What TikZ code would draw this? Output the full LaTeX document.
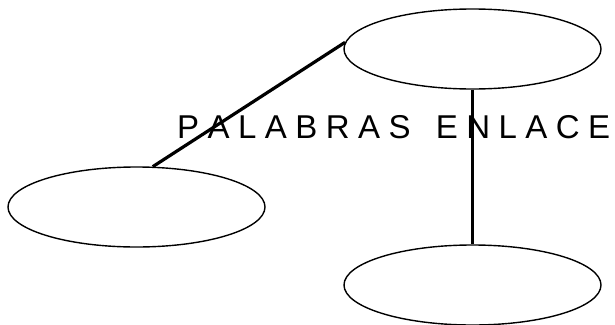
\documentclass[tikz,border=0pt]{standalone}
\usepackage{fontspec}
\setmainfont{Liberation Sans}
\usetikzlibrary{shapes.geometric}
\begin{document}
\begin{tikzpicture}[x=1pt,y=-1pt,
  concept/.style={draw=black,ellipse,line width=1.4pt,minimum width=257pt,minimum height=80pt,inner sep=0pt},
  link/.style={draw=black,line width=3.2pt}]
\useasboundingbox (0,0) rectangle (615,324);
\node[concept] (t) at (472.5,49) {};
\node[concept] (l) at (136.5,207) {};
\node[concept] (b) at (472.5,285) {};
\node[anchor=base west,inner sep=0pt,font=\fontsize{33}{36}\selectfont] (w) at (177,138)
  {\makebox[433pt][s]{P\hfill A\hfill L\hfill A\hfill B\hfill R\hfill A\hfill S\hfill\hfill\hfill E\hfill N\hfill L\hfill A\hfill C\hfill E}};
\draw[link] (t.177) -- (l.68);
\draw[link] (t.south) -- (b.north);
\end{tikzpicture}
\end{document}
